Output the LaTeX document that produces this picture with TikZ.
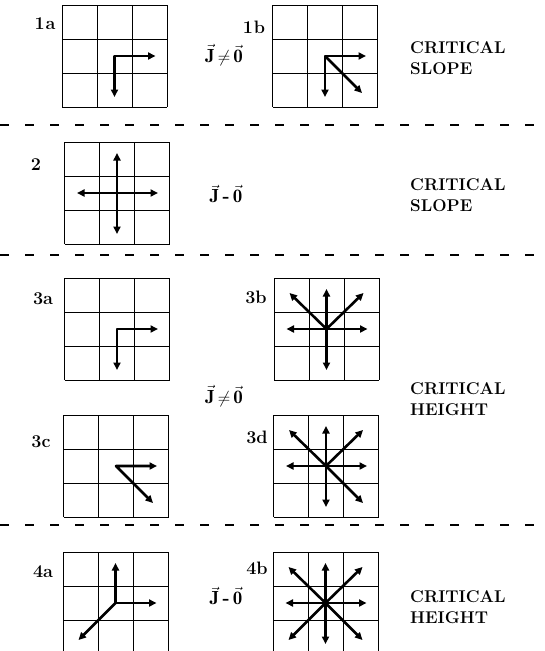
\documentclass[tikz,border=0pt]{standalone}
\usepackage{amsmath}
\usepackage{fontspec}
\usetikzlibrary{arrows.meta}

\tikzset{
  gridline/.style={line width=0.9pt},
  flux/.style={line width=2.6pt, line join=round, ->},
  tag/.style={font=\fontsize{18}{18}\selectfont\bfseries, inner sep=0pt},
  rule/.style={font=\fontsize{19}{19}\selectfont\bfseries, inner sep=0pt},
  verdict/.style={font=\fontsize{17}{21}\selectfont\bfseries, align=left, anchor=west, inner sep=0pt},
  sep/.style={line width=1.1pt, dash pattern=on 9pt off 16pt},
  lattice/.pic={
    \foreach \k in {0,...,3} {
      \draw[gridline] (-52.5+35*\k,-51) -- (-52.5+35*\k,51);
      \draw[gridline] (-52.5,-51+34*\k) -- (52.5,-51+34*\k);
    }
    \coordinate (-c) at (0,0);
    \coordinate (-n) at (0,-40); \coordinate (-s) at (0,41);
    \coordinate (-e) at (41,0); \coordinate (-w) at (-40,0);
    \coordinate (-ne) at (37,-36); \coordinate (-nw) at (-37,-36);
    \coordinate (-se) at (37,37); \coordinate (-sw) at (-37,37);
  }
}
\newcommand{\Jneq}{$\vec{\mathbf J}\mkern-2mu\neq\mkern-2mu\vec{\mathbf 0}$}
\newcommand{\Jdash}{$\vec{\mathbf J}$\,\textbf{-}\,$\vec{\mathbf 0}$}

\begin{document}
\begin{tikzpicture}[x=1pt, y=-1pt, >={Triangle[length=7.5pt,width=7pt]}]
\useasboundingbox (0,0) rectangle (545,651);

% row 1
\pic (g1a) at (114.5,56) {lattice}; \pic (g1b) at (325,56) {lattice};
\node[tag] (t1a) at (45,24) {1\kern1pt a}; \node[tag] (t1b) at (254,27) {1\kern1pt b};
\node[rule] (r1) at (224,55) {\Jneq};
\node[verdict] (v1) at (410,58) {CRITICAL\\SLOPE};
\draw[flux,<->] (g1a-s) -- (g1a-c) -- (g1a-e);
\draw[flux,<->] (g1b-s) -- (g1b-c) -- (g1b-e); \draw[flux] (g1b-c) -- (g1b-se);
\draw[sep] (0,125) -- (545,125);

% row 2
\pic (g2) at (117,193) {lattice};
\node[tag] (t2) at (36,165) {2};
\node[rule] (r2) at (226,194) {\Jdash};
\node[verdict] (v2) at (410,195) {CRITICAL\\SLOPE};
\draw[flux,<->] (g2-w) -- (g2-e); \draw[flux,<->] (g2-n) -- (g2-s);
\draw[sep] (0,255) -- (545,255);

% row 3
\pic (g3a) at (117,329) {lattice}; \pic (g3b) at (326.5,329) {lattice};
\pic (g3c) at (116,466) {lattice}; \pic (g3d) at (326,466) {lattice};
\node[tag] (t3a) at (43,299) {3a}; \node[tag] (t3b) at (256,297) {3b};
\node[tag] (t3c) at (41,442) {3c}; \node[tag] (t3d) at (257,437) {3d};
\node[rule] (r3) at (224,396) {\Jneq};
\node[verdict] (v3) at (410,399) {CRITICAL\\HEIGHT};
\draw[flux,<->] (g3a-s) -- (g3a-c) -- (g3a-e);
\foreach \d in {n,s,e,w,ne,nw} \draw[flux] (g3b-c) -- (g3b-\d);
\draw[flux,<->] (g3c-e) -- (g3c-c) -- (g3c-se);
\foreach \d in {n,s,e,w,ne,nw,se} \draw[flux] (g3d-c) -- (g3d-\d);
\draw[sep] (0,525) -- (545,525);

% row 4
\pic (g4a) at (115.5,603) {lattice}; \pic (g4b) at (325.5,603) {lattice};
\node[tag] (t4a) at (43,572) {4a}; \node[tag] (t4b) at (257,568) {4b};
\node[rule] (r4) at (226,596) {\Jdash};
\node[verdict] (v4) at (410,607) {CRITICAL\\HEIGHT};
\draw[flux,<->] (g4a-n) -- (g4a-c) -- (g4a-e); \draw[flux] (g4a-c) -- (g4a-sw);
\foreach \d in {n,s,e,w,ne,nw,se,sw} \draw[flux] (g4b-c) -- (g4b-\d);
\end{tikzpicture}
\end{document}
